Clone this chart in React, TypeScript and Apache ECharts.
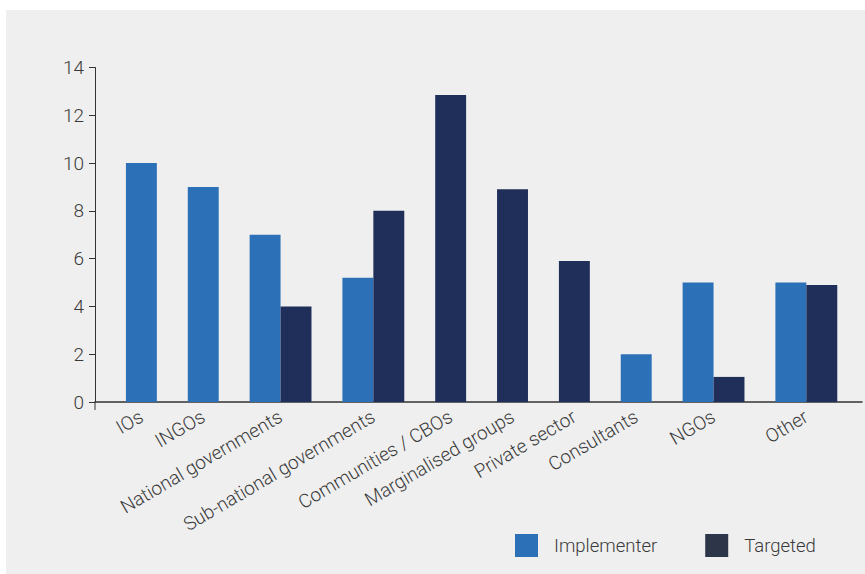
import React, { useEffect, useRef } from "react";
import * as echarts from "echarts";

const categories = [
  "IOs",
  "INGOs",
  "National governments",
  "Sub-national governments",
  "Communities / CBOs",
  "Marginalised groups",
  "Private sector",
  "Consultants",
  "NGOs",
  "Other",
];
const implementer: (number | null)[] = [10, 9, 7, 5.2, null, null, null, 2, 5, 5];
const targeted: (number | null)[] = [null, null, 4, 8, 12.85, 8.9, 5.9, null, 1.05, 4.9];
const yTicks = [0, 2, 4, 6, 8, 10, 12, 14];

const IMPL_COLOR = "#2c70b8";
const TGT_COLOR = "#1f2f5a";
const TGT_LEGEND = "#2d3548";
const FONT = "Roboto";
const TEXT = "#3a3a3a";

export default function App() {
  const ref = useRef<HTMLDivElement>(null);
  useEffect(() => {
    if (!ref.current) return;
    const chart = echarts.init(ref.current, undefined, { renderer: "svg" });

    // slot layout: each category = one gap slot + one slot per present bar
    const implData: [number, number][] = [];
    const tgtData: [number, number][] = [];
    const labelAt: Record<number, string> = {};
    let pos = 0;
    categories.forEach((c, i) => {
      pos += 1;
      const start = pos;
      if (implementer[i] != null) {
        implData.push([pos, implementer[i] as number]);
        pos += 1;
      }
      if (targeted[i] != null) {
        tgtData.push([pos, targeted[i] as number]);
        pos += 1;
      }
      labelAt[Math.round(start + pos)] = c; // key = 2*center
    });

    const renderBar = (params: any, api: any) => {
      const x0 = api.value(0);
      const v = api.value(1);
      const p0 = api.coord([x0, v]);
      const p1 = api.coord([x0 + 1, 0]);
      return {
        type: "rect",
        shape: { x: p0[0], y: p0[1], width: p1[0] - p0[0], height: p1[1] - p0[1] },
        style: { fill: api.visual("color") },
      };
    };

    const panel = {
      type: "rect",
      z: -10,
      shape: { x: 6, y: 10, width: 860, height: 564 },
      style: { fill: "#efefef" },
      silent: true,
    };

    chart.setOption({
      animation: false,
      backgroundColor: "transparent",
      textStyle: { fontFamily: FONT },
      graphic: [panel],
      grid: { left: 95, right: 3, top: 67.5, bottom: 172, containLabel: false },
      legend: {
        left: 515,
        top: 534,
        padding: 0,
        icon: "rect",
        itemWidth: 23,
        itemHeight: 23,
        itemGap: 48,
        textStyle: {
          fontSize: 18.5,
          color: TEXT,
          fontFamily: FONT,
          fontWeight: 300,
          padding: [0, 0, 0, 11],
        },
        data: [
          { name: "Implementer", itemStyle: { color: IMPL_COLOR } },
          { name: "Targeted", itemStyle: { color: TGT_LEGEND } },
        ],
      },
      xAxis: {
        type: "value",
        min: 0,
        max: 24.8,
        interval: 0.5,
        splitLine: { show: false },
        axisTick: { show: false },
        axisLine: { show: true, onZero: false, lineStyle: { color: "#333", width: 1.5 } },
        axisLabel: {
          rotate: 30.5,
          fontSize: 19,
          fontWeight: 300,
          color: TEXT,
          fontFamily: FONT,
          margin: 13,
          showMinLabel: true,
          showMaxLabel: true,
          formatter: (v: number) => labelAt[Math.round(v * 2)] ?? "",
        },
      },
      yAxis: {
        type: "value",
        min: yTicks[0],
        max: yTicks[yTicks.length - 1],
        interval: 2,
        splitLine: { show: false },
        axisLine: { show: true, lineStyle: { color: "#333", width: 1 } },
        axisTick: { show: true, length: 6, lineStyle: { color: "#333" } },
        axisLabel: { fontSize: 19, fontWeight: 300, color: TEXT, fontFamily: FONT, margin: 11 },
      },
      series: [
        {
          name: "Implementer",
          type: "custom",
          renderItem: renderBar,
          itemStyle: { color: IMPL_COLOR },
          encode: { x: 0, y: 1 },
          data: implData,
        },
        {
          name: "Targeted",
          type: "custom",
          renderItem: renderBar,
          itemStyle: { color: TGT_COLOR },
          encode: { x: 0, y: 1 },
          data: tgtData,
        },
      ],
    });

    const o = chart.convertToPixel({ gridIndex: 0 }, [0, 0]) as number[];
    chart.setOption({
      graphic: [
        panel,
        {
          type: "line",
          shape: { x1: o[0], y1: o[1], x2: o[0], y2: o[1] + 8 },
          style: { stroke: "#333", lineWidth: 1 },
          silent: true,
        },
      ],
    });

    return () => chart.dispose();
  }, []);
  return (
    <div
      ref={ref}
      style={{ position: "absolute", left: 0, top: 0, width: 865, height: 574, background: "#fff" }}
    />
  );
}
